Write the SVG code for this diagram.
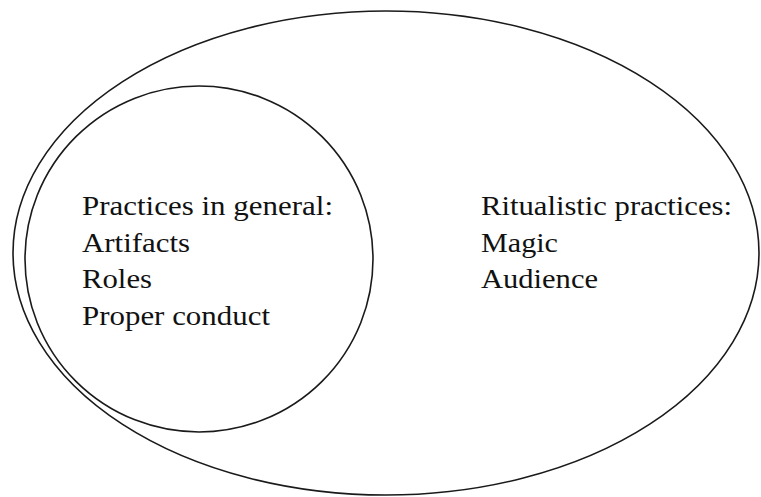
<svg xmlns="http://www.w3.org/2000/svg" width="761" height="497" viewBox="0 0 761 497">
<style>
.shape{fill:none;stroke:#1a1a1a;stroke-width:1.6}
.t{font-family:"Liberation Serif","Times New Roman",serif;font-size:28px;fill:#111}
</style>
<rect width="761" height="497" fill="#fff"/>
<g id="outer">
<ellipse class="shape" cx="386" cy="253" rx="373" ry="242"/>
<text class="t" x="481" y="215" textLength="251" lengthAdjust="spacingAndGlyphs">Ritualistic practices:</text>
<text class="t" x="481" y="252" textLength="77" lengthAdjust="spacingAndGlyphs">Magic</text>
<text class="t" x="481" y="288" textLength="117" lengthAdjust="spacingAndGlyphs">Audience</text>
</g>
<g id="inner">
<ellipse class="shape" cx="199" cy="259" rx="174" ry="173"/>
<text class="t" x="82" y="215" textLength="251" lengthAdjust="spacingAndGlyphs">Practices in general:</text>
<text class="t" x="82" y="252" textLength="108" lengthAdjust="spacingAndGlyphs">Artifacts</text>
<text class="t" x="82" y="288" textLength="70" lengthAdjust="spacingAndGlyphs">Roles</text>
<text class="t" x="82" y="325" textLength="188" lengthAdjust="spacingAndGlyphs">Proper conduct</text>
</g>
<g id="connectors"/>
</svg>
